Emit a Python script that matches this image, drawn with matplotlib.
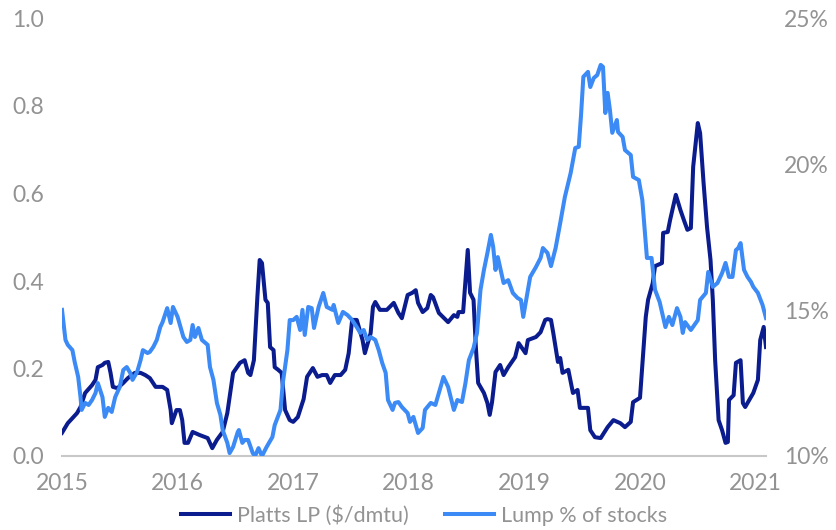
import matplotlib
matplotlib.use("Agg")
import matplotlib.pyplot as plt
from matplotlib.ticker import FuncFormatter
from matplotlib.lines import Line2D

# ---- data (decimal years) ----
platts_t = [2015.00, 2015.05, 2015.13, 2015.16, 2015.20, 2015.26, 2015.29, 2015.31, 2015.35, 2015.37,
            2015.40, 2015.42, 2015.44, 2015.48, 2015.53, 2015.57, 2015.63, 2015.68, 2015.72, 2015.76,
            2015.81, 2015.87, 2015.91, 2015.94, 2015.95, 2015.99, 2016.02, 2016.04, 2016.06, 2016.09,
            2016.13, 2016.19, 2016.26, 2016.30, 2016.34, 2016.39, 2016.43, 2016.48, 2016.54, 2016.58,
            2016.61, 2016.63, 2016.66, 2016.69, 2016.71, 2016.73, 2016.76, 2016.78, 2016.80, 2016.83,
            2016.84, 2016.87, 2016.90, 2016.93, 2016.97, 2017.00, 2017.04, 2017.09, 2017.12, 2017.17,
            2017.21, 2017.25, 2017.29, 2017.32, 2017.36, 2017.41, 2017.45, 2017.48, 2017.51, 2017.55,
            2017.60, 2017.62, 2017.67, 2017.69, 2017.71, 2017.75, 2017.81, 2017.87, 2017.91, 2017.94,
            2017.99, 2018.03, 2018.06, 2018.08, 2018.12, 2018.16, 2018.19, 2018.21, 2018.26, 2018.32,
            2018.34, 2018.39, 2018.42, 2018.43, 2018.47, 2018.51, 2018.53, 2018.56, 2018.58, 2018.60,
            2018.65, 2018.68, 2018.70, 2018.72, 2018.75, 2018.79, 2018.82, 2018.86, 2018.92, 2018.95,
            2019.01, 2019.03, 2019.10, 2019.14, 2019.18, 2019.20, 2019.23, 2019.25, 2019.29, 2019.31,
            2019.33, 2019.38, 2019.42, 2019.46, 2019.48, 2019.55, 2019.57, 2019.61, 2019.66, 2019.72,
            2019.77, 2019.83, 2019.87, 2019.92, 2019.94, 2020.00, 2020.05, 2020.07, 2020.11, 2020.13,
            2020.19, 2020.20, 2020.24, 2020.26, 2020.31, 2020.35, 2020.38, 2020.41, 2020.44, 2020.46,
            2020.50, 2020.52, 2020.55, 2020.58, 2020.61, 2020.63, 2020.65, 2020.68, 2020.71, 2020.74,
            2020.76, 2020.77, 2020.81, 2020.83, 2020.87, 2020.89, 2020.91, 2020.96, 2020.98, 2021.02,
            2021.04, 2021.07, 2021.09]
platts_v = [0.053, 0.075, 0.098, 0.112, 0.144, 0.162, 0.174, 0.203, 0.208, 0.213,
            0.215, 0.190, 0.158, 0.155, 0.167, 0.178, 0.190, 0.190, 0.185, 0.178,
            0.158, 0.158, 0.151, 0.105, 0.075, 0.105, 0.105, 0.082, 0.030, 0.030,
            0.055, 0.048, 0.041, 0.018, 0.037, 0.055, 0.098, 0.190, 0.213, 0.219,
            0.190, 0.185, 0.219, 0.363, 0.448, 0.441, 0.357, 0.350, 0.249, 0.242,
            0.203, 0.197, 0.190, 0.105, 0.082, 0.078, 0.089, 0.130, 0.181, 0.201,
            0.181, 0.185, 0.185, 0.167, 0.185, 0.185, 0.197, 0.235, 0.311, 0.311,
            0.265, 0.235, 0.281, 0.341, 0.352, 0.334, 0.334, 0.350, 0.327, 0.315,
            0.368, 0.373, 0.379, 0.350, 0.329, 0.338, 0.368, 0.363, 0.327, 0.311,
            0.306, 0.322, 0.318, 0.329, 0.329, 0.471, 0.373, 0.357, 0.249, 0.167,
            0.144, 0.121, 0.094, 0.123, 0.192, 0.208, 0.185, 0.203, 0.226, 0.258,
            0.235, 0.265, 0.272, 0.283, 0.311, 0.313, 0.311, 0.281, 0.215, 0.224,
            0.190, 0.197, 0.144, 0.151, 0.110, 0.110, 0.059, 0.043, 0.041, 0.066,
            0.082, 0.075, 0.066, 0.078, 0.123, 0.133, 0.318, 0.357, 0.395, 0.434,
            0.441, 0.510, 0.512, 0.539, 0.597, 0.562, 0.539, 0.517, 0.521, 0.661,
            0.761, 0.738, 0.624, 0.523, 0.448, 0.357, 0.219, 0.082, 0.059, 0.030,
            0.032, 0.128, 0.139, 0.213, 0.219, 0.121, 0.112, 0.135, 0.144, 0.174,
            0.265, 0.295, 0.249]

lump_t = [2015.00, 2015.03, 2015.05, 2015.09, 2015.11, 2015.14, 2015.16, 2015.17, 2015.20, 2015.23,
          2015.26, 2015.29, 2015.31, 2015.35, 2015.37, 2015.40, 2015.43, 2015.46, 2015.50, 2015.53,
          2015.56, 2015.59, 2015.61, 2015.65, 2015.68, 2015.70, 2015.74, 2015.76, 2015.79, 2015.82,
          2015.85, 2015.87, 2015.91, 2015.94, 2015.96, 2016.00, 2016.05, 2016.08, 2016.11, 2016.13,
          2016.15, 2016.18, 2016.21, 2016.26, 2016.28, 2016.31, 2016.34, 2016.37, 2016.39, 2016.43,
          2016.45, 2016.48, 2016.52, 2016.53, 2016.56, 2016.58, 2016.61, 2016.65, 2016.67, 2016.70,
          2016.73, 2016.77, 2016.82, 2016.84, 2016.89, 2016.91, 2016.95, 2016.97, 2017.00, 2017.03,
          2017.06, 2017.08, 2017.10, 2017.13, 2017.16, 2017.18, 2017.22, 2017.26, 2017.29, 2017.34,
          2017.35, 2017.39, 2017.43, 2017.47, 2017.51, 2017.55, 2017.58, 2017.61, 2017.64, 2017.67,
          2017.71, 2017.74, 2017.77, 2017.80, 2017.82, 2017.86, 2017.88, 2017.91, 2017.94, 2017.99,
          2018.01, 2018.04, 2018.08, 2018.12, 2018.14, 2018.19, 2018.23, 2018.26, 2018.30, 2018.34,
          2018.39, 2018.42, 2018.46, 2018.49, 2018.52, 2018.56, 2018.59, 2018.62, 2018.65, 2018.68,
          2018.71, 2018.73, 2018.75, 2018.77, 2018.82, 2018.86, 2018.90, 2018.94, 2018.97, 2018.99,
          2019.03, 2019.05, 2019.10, 2019.14, 2019.16, 2019.20, 2019.23, 2019.27, 2019.31, 2019.35,
          2019.40, 2019.44, 2019.47, 2019.49, 2019.51, 2019.55, 2019.57, 2019.60, 2019.63, 2019.66,
          2019.68, 2019.70, 2019.72, 2019.74, 2019.76, 2019.80, 2019.81, 2019.85, 2019.87, 2019.92,
          2019.94, 2019.99, 2020.02, 2020.06, 2020.10, 2020.13, 2020.17, 2020.22, 2020.25, 2020.28,
          2020.32, 2020.35, 2020.37, 2020.39, 2020.44, 2020.50, 2020.52, 2020.57, 2020.59, 2020.63,
          2020.67, 2020.71, 2020.74, 2020.77, 2020.80, 2020.83, 2020.85, 2020.87, 2020.90, 2020.93,
          2020.96, 2020.98, 2021.02, 2021.06, 2021.09]
lump_v = [15.01, 13.98, 13.81, 13.63, 13.22, 12.71, 12.02, 11.58, 11.82, 11.75,
          11.92, 12.16, 12.50, 12.02, 11.34, 11.65, 11.51, 12.02, 12.37, 12.95,
          13.05, 12.85, 12.61, 12.88, 13.29, 13.63, 13.53, 13.57, 13.74, 13.98,
          14.42, 14.59, 15.07, 14.56, 15.11, 14.77, 14.08, 13.91, 13.98, 14.49,
          14.08, 14.39, 13.98, 13.81, 13.05, 12.61, 11.82, 11.41, 10.89, 10.45,
          10.10, 10.31, 10.82, 10.89, 10.45, 10.55, 10.55, 10.10, 10.00, 10.27,
          10.00, 10.31, 10.65, 11.06, 11.58, 12.50, 13.63, 14.66, 14.66, 14.77,
          14.32, 15.01, 14.15, 15.11, 15.07, 14.39, 15.11, 15.59, 15.11, 15.01,
          15.18, 14.56, 14.94, 14.83, 14.66, 14.42, 14.22, 14.32, 13.98, 14.08,
          13.98, 13.63, 13.19, 12.85, 11.92, 11.58, 11.82, 11.85, 11.68, 11.47,
          11.17, 11.34, 10.79, 10.96, 11.58, 11.82, 11.75, 12.16, 12.71, 12.37,
          11.58, 11.92, 11.85, 12.50, 13.29, 13.70, 14.22, 15.69, 16.38, 16.96,
          17.58, 17.17, 16.38, 16.82, 15.93, 16.03, 15.59, 15.42, 15.35, 14.77,
          15.69, 16.14, 16.48, 16.79, 17.13, 16.96, 16.51, 17.13, 17.99, 18.88,
          19.70, 20.56, 20.60, 21.69, 23.00, 23.17, 22.65, 22.96, 23.06, 23.41,
          23.34, 21.76, 22.45, 21.86, 21.08, 21.52, 21.11, 20.94, 20.49, 20.32,
          19.57, 19.46, 18.78, 16.79, 16.79, 15.70, 15.28, 14.42, 14.77, 14.49,
          15.07, 14.77, 14.22, 14.59, 14.32, 14.66, 15.35, 15.59, 16.31, 15.80,
          15.93, 16.27, 16.62, 16.14, 16.14, 17.06, 17.13, 17.30, 16.38, 16.14,
          15.97, 15.80, 15.59, 15.18, 14.73]

years = [2015, 2016, 2017, 2018, 2019, 2020, 2021]
left_ticks = [0.0, 0.2, 0.4, 0.6, 0.8, 1.0]
right_ticks = [10, 15, 20, 25]
labels = ["Platts LP ($/dmtu)", "Lump % of stocks"]

DARK = "#0a1c8e"
LIGHT = "#3b8af5"
GREY = "#939393"

plt.rcParams['font.family'] = ['Lato', 'DejaVu Sans']

fig = plt.figure(figsize=(8.36, 5.30), dpi=100)
ax = fig.add_axes([62/836, (530-456)/530, (766-62)/836, (456-18.5)/530])
ax2 = ax.twinx()

ax.plot(platts_t, platts_v, color=DARK, lw=2.9, solid_joinstyle='round', zorder=3)
ax2.plot(lump_t, lump_v, color=LIGHT, lw=2.9, solid_joinstyle='round', zorder=2)

ax.set_xlim(2015.0, 2021.09)
ax.set_ylim(0, 1.0)
ax2.set_ylim(10, 25)

ax.set_xticks(years)
ax.set_xticklabels([str(y) for y in years])
ax.set_yticks(left_ticks)
ax.yaxis.set_major_formatter(FuncFormatter(lambda v, p: f"{v:.1f}"))
ax2.set_yticks(right_ticks)
ax2.yaxis.set_major_formatter(FuncFormatter(lambda v, p: f"{int(v)}%"))

for a in (ax, ax2):
    for s in a.spines.values():
        s.set_visible(False)
    a.tick_params(length=0, colors=GREY, labelsize=16.5, labelcolor=GREY)
ax.spines['bottom'].set_visible(True)
ax.spines['bottom'].set_color('#c8c8c8')
ax.spines['bottom'].set_linewidth(1.5)
ax.tick_params(axis='y', pad=13)
ax2.tick_params(axis='y', pad=13)
ax.tick_params(axis='x', pad=12)

handles = [Line2D([], [], color=DARK, lw=2.9), Line2D([], [], color=LIGHT, lw=2.9)]
leg = fig.legend(handles, labels, loc='center', bbox_to_anchor=(0.507, 0.027), ncol=2,
                 frameon=False, handlelength=2.3, handletextpad=0.3,
                 columnspacing=1.7, prop={'size': 15.5})
for t in leg.get_texts():
    t.set_color(GREY)

fig.savefig("out.png", dpi=100)
